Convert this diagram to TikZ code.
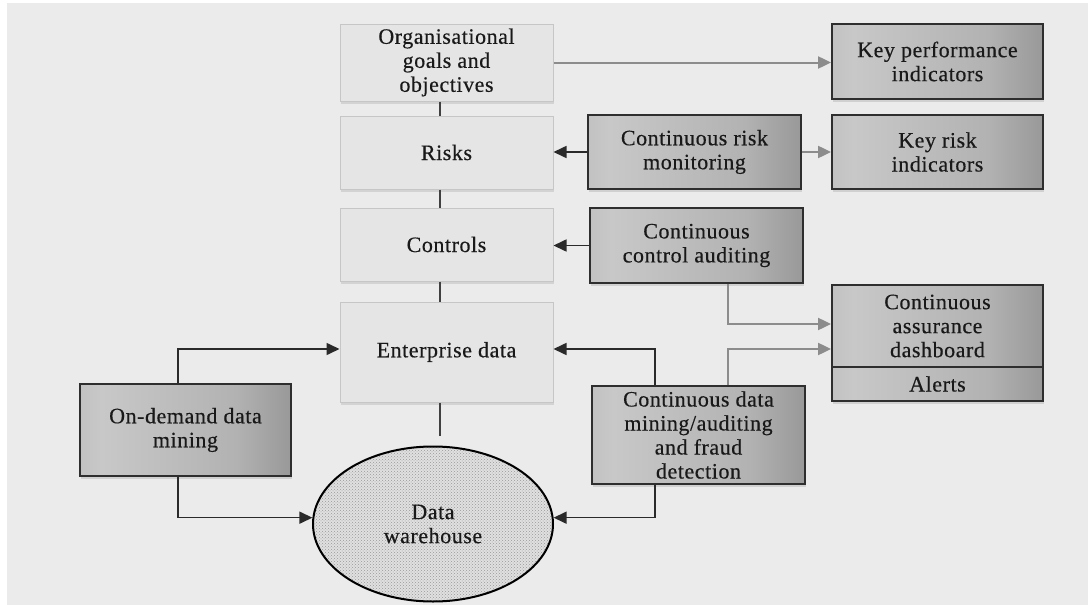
\documentclass[tikz,border=0pt]{standalone}
\usepackage{fontspec}
\setmainfont[LetterSpace=2.5,FakeBold=0.4]{Liberation Serif}
\usetikzlibrary{arrows.meta,shadows,patterns,calc,shapes.geometric}

\definecolor{pagegray}{HTML}{EBEBEB}
\definecolor{lightfill}{HTML}{E5E5E5}
\definecolor{lightedge}{HTML}{C6C6C6}
\definecolor{darkedge}{HTML}{2E2E2E}
\definecolor{linkgray}{HTML}{8C8C8C}
\definecolor{linkdark}{HTML}{2A2A2A}
\definecolor{shA}{HTML}{A2A2A2}
\definecolor{shB}{HTML}{C8C8C8}
\definecolor{shC}{HTML}{B2B2B2}
\definecolor{shD}{HTML}{686868}

% left-to-right metallic gradient of the dark boxes
\pgfdeclarehorizontalshading{metal}{100bp}{color(0bp)=(shA); color(30bp)=(shB); color(62bp)=(shC); color(100bp)=(shD)}

\tikzset{
  txt/.style={font=\fontsize{22}{24}\selectfont, align=center, text=black!90},
  lightbox/.style={txt, draw=lightedge, line width=1pt, fill=lightfill,
    minimum width=213pt, inner sep=0pt,
    drop shadow={opacity=0.22, shadow xshift=1pt, shadow yshift=-3pt}},
  darkbox/.style={txt, draw=darkedge, line width=1.8pt, shading=metal,
    minimum width=211pt, inner sep=0pt,
    drop shadow={opacity=0.25, shadow xshift=1pt, shadow yshift=-3pt}},
  blink/.style={draw=linkdark, line width=1.6pt, -{Triangle[length=13pt,width=12pt]}},
  glink/.style={draw=linkgray, line width=2pt, -{Triangle[length=13pt,width=12pt]}},
  spine/.style={draw=black!75, line width=2pt},
}

\begin{document}
\begin{tikzpicture}[x=1pt,y=-1pt]
  \useasboundingbox (0,0) rectangle (1088,605);
  \fill[white] (0,0) rectangle (1088,605);
  \fill[pagegray] (7,3) rectangle (1088,605);

  % central column
  \node[lightbox, minimum height=77pt] (org) at (446.5,62.5) {Organisational\\goals and\\objectives};
  \node[lightbox, minimum height=73pt] (risks) at (446.5,152.5) {Risks};
  \node[lightbox, minimum height=73pt] (controls) at (446.5,244.5) {Controls};
  \node[lightbox, minimum height=100pt] (ent) at (446.5,352) {Enterprise data};

  % data warehouse
  \node[ellipse, draw=black, line width=2pt, minimum width=240pt, minimum height=155pt,
        preaction={fill=black!12}, pattern=crosshatch dots, pattern color=black!40,
        txt, inner sep=0pt] (dw) at (433,524) {Data\\warehouse};

  % monitoring boxes
  \node[darkbox, minimum width=213pt, minimum height=74pt] (crm) at (694.5,152) {Continuous risk\\monitoring};
  \node[darkbox, minimum width=213pt, minimum height=75pt] (cca) at (696.5,245.5) {Continuous\\control auditing};
  \node[darkbox, minimum width=213pt, minimum height=98pt] (cdm) at (698.5,435) {Continuous data\\mining/auditing\\and fraud\\detection};
  \node[darkbox, minimum height=92pt] (odm) at (185.5,430) {On-demand data\\mining};

  % indicator boxes
  \node[darkbox, minimum height=75pt] (kpi) at (937.5,61.5) {Key performance\\indicators};
  \node[darkbox, minimum height=74pt] (kri) at (937.5,152) {Key risk\\indicators};
  \node[darkbox, minimum height=82pt] (dash) at (937.5,326) {Continuous\\assurance\\dashboard};
  \node[darkbox, minimum height=34pt, drop shadow={opacity=0}] (alerts) at (937.5,384) {Alerts};

  % spine through the central column
  \draw[spine] ([xshift=-6.5pt]org.south) -- ([xshift=-6.5pt]risks.north);
  \draw[spine] ([xshift=-6.5pt]risks.south) -- ([xshift=-6.5pt]controls.north);
  \draw[spine] ([xshift=-6.5pt]controls.south) -- ([xshift=-6.5pt]ent.north);
  \draw[spine] ([xshift=-6.5pt]ent.south) -- ($(dw.north)+(7,-10)$);

  % connectors
  \draw[glink] (org.east) -- (org.east -| kpi.west);
  \draw[blink] (crm.west) -- (crm.west -| risks.east);
  \draw[glink] (crm.east) -- (crm.east -| kri.west);
  \draw[blink] (cca.west) -- (cca.west -| controls.east);
  \draw[glink] ([xshift=31.5pt]cca.south) |- ([yshift=2pt]dash.west);
  \draw[glink] ([xshift=29.5pt]cdm.north) |- ([yshift=-23pt]dash.west);
  \draw[blink] ([xshift=-43.5pt]cdm.north) |- ([yshift=3pt]ent.east);
  \draw[blink] ([xshift=-43.5pt]cdm.south) |- (dw.3);
  \draw[blink] ([xshift=-7.5pt]odm.north) |- ([yshift=3pt]ent.west);
  \draw[blink] ([xshift=-7.5pt]odm.south) |- (dw.177);
\end{tikzpicture}
\end{document}
